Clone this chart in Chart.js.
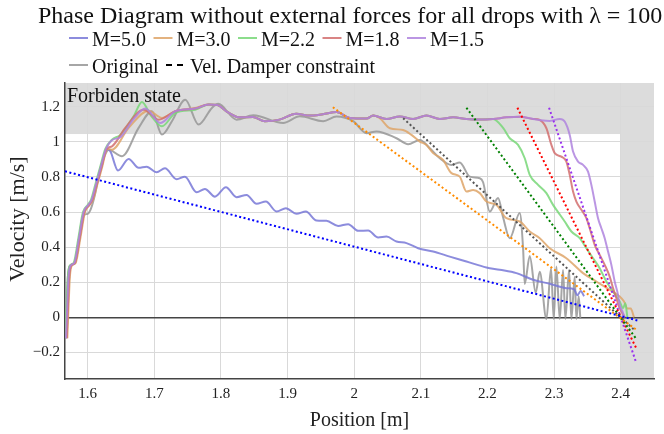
<!DOCTYPE html>
<html>
<head>
<meta charset="utf-8">
<script src="https://cdn.jsdelivr.net/npm/chart.js@4.4.0/dist/chart.umd.min.js"></script>
<style>
body{margin:0;background:#fff;}
#wrap{width:664px;height:434px;position:relative;}
</style>
</head>
<body>
<div id="wrap"><canvas id="phase"></canvas></div>
<script>
// ---- data ----
const xTicks = [1.6,1.7,1.8,1.9,2.0,2.1,2.2,2.3,2.4];
const yTicks = [-0.2,0,0.2,0.4,0.6,0.8,1,1.2];
const forbidVel = 1.045;   // forbidden state above this velocity
const wallPos = 2.4;       // forbidden state right of this position

// rise of the curves from the start
const rise = [[1.5665,-0.12],[1.5685,0.08],[1.5705,0.24],[1.5735,0.295],[1.579,0.31],[1.586,0.45],[1.593,0.60],[1.600,0.64],[1.605,0.67],[1.611,0.75],[1.619,0.86],[1.6265,0.96]];
// plateau in the forbidden region
const plateau = [[1.7815,1.213],[1.7945,1.21],[1.81,1.17],[1.828,1.14],[1.848,1.142],[1.866,1.118],[1.888,1.127],[1.913,1.16],[1.933,1.15],[1.953,1.158],[1.9735,1.17],[1.9935,1.137],[2.0185,1.133],[2.0285,1.15],[2.0485,1.131],[2.0685,1.145],[2.0885,1.131],[2.1085,1.15],[2.1285,1.131],[2.1485,1.14],[2.1685,1.131],[2.1885,1.128],[2.2085,1.131],[2.2285,1.14],[2.2485,1.144],[2.2685,1.131],[2.2785,1.125],[2.2935,1.12],[2.3085,1.131]];

const m50 = [[1.634,0.947],[1.6455,0.837],[1.6615,0.903],[1.6765,0.852],[1.6885,0.859],[1.7035,0.827],[1.716,0.85],[1.7335,0.787],[1.746,0.802],[1.7635,0.713],[1.776,0.732],[1.791,0.688],[1.8075,0.742],[1.8235,0.685],[1.8385,0.698],[1.8535,0.647],[1.8675,0.66],[1.8835,0.603],[1.8975,0.622],[1.9135,0.59],[1.9275,0.603],[1.9435,0.552],[1.9585,0.55],[1.976,0.521],[1.991,0.531],[2.006,0.493],[2.021,0.495],[2.036,0.455],[2.0485,0.46],[2.0635,0.432],[2.0785,0.423],[2.096,0.394],[2.1185,0.375],[2.1435,0.346],[2.1685,0.318],[2.1985,0.284],[2.2185,0.271],[2.2435,0.252],[2.2685,0.214],[2.2935,0.191],[2.3185,0.166],[2.33,0.16],[2.335,0.125],[2.34,0.15],[2.345,0.12]];
const m30 = [[1.6365,0.956],[1.6615,1.08],[1.6915,1.178],[1.7115,1.137],[1.7315,1.175],[1.7615,1.194],[2.0385,1.135],[2.0535,1.078],[2.0735,1.068],[2.086,1.04],[2.0985,1.002],[2.1085,0.983],[2.1185,0.936],[2.1335,0.897],[2.146,0.822],[2.1585,0.802],[2.1685,0.717],[2.1785,0.726],[2.1885,0.708],[2.1985,0.66],[2.2135,0.641],[2.2285,0.565],[2.2485,0.546],[2.2635,0.489],[2.2785,0.451],[2.2935,0.394],[2.3185,0.337],[2.3435,0.252],[2.3635,0.204],[2.3835,0.157],[2.3985,0.119],[2.405,0.09],[2.41,0.05],[2.415,0.05],[2.42,0.0]];
const m22 = [[1.6365,1.013],[1.649,1.04],[1.669,1.146],[1.6815,1.228],[1.695,1.15],[1.7115,1.089],[1.7315,1.165],[1.7615,1.184],[2.2235,1.08],[2.2335,1.021],[2.246,0.983],[2.256,0.907],[2.2635,0.812],[2.276,0.755],[2.2885,0.708],[2.2985,0.641],[2.306,0.6],[2.316,0.546],[2.326,0.489],[2.3385,0.451],[2.3485,0.394],[2.3585,0.337],[2.3685,0.28],[2.3785,0.204],[2.3885,0.147],[2.3985,0.09],[2.4035,0.052],[2.407,0.08],[2.41,0.0]];
const m18 = [[1.6365,0.975],[1.6565,1.08],[1.684,1.184],[1.7065,1.127],[1.7315,1.175],[1.7615,1.19],[2.2885,1.078],[2.296,0.983],[2.301,0.936],[2.311,0.916],[2.3185,0.888],[2.3235,0.812],[2.3285,0.717],[2.3335,0.66],[2.341,0.613],[2.3485,0.565],[2.3535,0.508],[2.361,0.413],[2.3685,0.356],[2.376,0.299],[2.3835,0.232],[2.3885,0.166],[2.3935,0.109],[2.3985,0.052],[2.403,0.02],[2.406,0.0]];
const m15 = [[1.6365,1.01],[1.649,1.027],[1.669,1.13],[1.6865,1.19],[1.709,1.108],[1.7315,1.175],[1.7615,1.19],[2.316,1.116],[2.3235,1.04],[2.3285,0.945],[2.336,0.888],[2.3435,0.869],[2.351,0.831],[2.356,0.755],[2.361,0.66],[2.366,0.565],[2.371,0.508],[2.376,0.451],[2.381,0.375],[2.386,0.299],[2.391,0.204],[2.396,0.128],[2.3985,0.071],[2.403,0.03],[2.406,0.0]];
const original = [[1.5665,-0.12],[1.5685,0.08],[1.5705,0.24],[1.5735,0.295],[1.58,0.31],[1.587,0.45],[1.593,0.58],[1.600,0.59],[1.605,0.62],[1.611,0.70],[1.619,0.85],[1.6265,0.93],[1.6315,0.955],[1.6515,0.918],[1.6765,1.08],[1.6965,1.175],[1.7115,1.042],[1.7265,1.118],[1.7465,1.241],[1.7665,1.099],[1.7865,1.194],[1.796,1.217],[1.8235,1.127],[1.8485,1.152],[1.8935,1.108],[1.9185,1.146],[1.9535,1.118],[1.9735,1.145],[1.9985,1.118],[2.0185,1.05],[2.0335,1.06],[2.0635,1.021],[2.081,0.987],[2.0985,1.011],[2.1135,0.964],[2.1285,0.907],[2.146,0.869],[2.1585,0.883],[2.1735,0.802],[2.1885,0.793],[2.1935,0.77],[2.2035,0.603],[2.216,0.68],[2.2235,0.57],[2.2335,0.451],[2.2485,0.594],[2.2535,0.394],[2.256,0.19],[2.2635,0.35],[2.2725,0.14],[2.2785,0.26],[2.2885,-0.01],[2.2955,0.28],[2.2995,-0.01],[2.3035,0.29],[2.3085,-0.01],[2.3135,0.27],[2.317,-0.01],[2.3225,0.27],[2.326,-0.01],[2.331,0.23],[2.3335,-0.01],[2.337,0.12],[2.3395,-0.01]];

// damper constraint lines (start, end)
const damp50 = [[1.566,0.8326],[2.425,-0.018]];
const damp30 = [[1.968,1.198],[2.4235,-0.071]];
const dampOrig = [[2.0735,1.135],[2.42,-0.07]];
const damp22 = [[2.1685,1.195],[2.4235,-0.124]];
const damp18 = [[2.245,1.195],[2.4245,-0.185]];
const damp15 = [[2.2925,1.195],[2.4235,-0.261]];

const seriesNames = ['M=5.0','M=3.0','M=2.2','M=1.8','M=1.5'];
// ------------------------------------

const shift = (arr, dx) => arr.map(p => [p[0]+dx, p[1]]);
const upTo = (arr, a, b) => arr.filter(p => p[0] > a && p[0] <= b);
const pts = arr => arr.map(p => ({x:p[0], y:p[1]}));

const full50 = shift(rise,0.002).concat(m50);
const full30 = shift(rise,0.003).concat(m30.slice(0,6), upTo(plateau,1.77,2.0285), m30.slice(6));
const full22 = rise.concat(m22.slice(0,8), upTo(plateau,1.77,2.2085), m22.slice(8));
const full18 = shift(rise,0.002).concat(m18.slice(0,6), upTo(plateau,1.77,2.2785), m18.slice(6));
const full15 = shift(rise,0.001).concat(m15.slice(0,7), upTo(plateau,1.77,2.3085), m15.slice(7));

const colors = {
  m50:'rgba(120,120,215,0.85)', m30:'rgba(222,165,105,0.85)', m22:'rgba(120,215,120,0.85)',
  m18:'rgba(210,110,110,0.85)', m15:'rgba(175,132,222,0.85)', orig:'rgba(150,150,150,0.85)'
};

function solid(label, data, color, order){
  return {label, data: pts(data), borderColor: color, borderWidth: 2, pointRadius: 0, order,
    fill: false, cubicInterpolationMode: 'monotone'};
}
function dotted(data, color){
  return {label: 'constraint', data: pts(data), borderColor: color, borderWidth: 2, order: 0,
    pointRadius: 0, borderDash: [2,2.5], fill: false, tension: 0};
}

const serif = "'Liberation Serif', 'Times New Roman', serif";
Chart.defaults.font.family = serif;
Chart.defaults.color = '#222';

const backdrop = {
  id: 'backdrop',
  beforeDraw(chart){
    const {ctx, chartArea: a, scales: {x, y}} = chart;
    const xw = x.getPixelForValue(wallPos), yf = y.getPixelForValue(forbidVel);
    ctx.save();
    ctx.fillStyle = '#dcdcdc';
    ctx.fillRect(a.left, a.top, xw - a.left, yf - a.top);
    ctx.fillRect(xw, a.top, a.right - xw, a.bottom - a.top);
    ctx.restore();
  },
  afterDraw(chart){
    const {ctx, chartArea: a} = chart;
    ctx.save();
    ctx.fillStyle = '#111';
    ctx.font = '24px ' + serif;
    ctx.textBaseline = 'alphabetic';
    ctx.fillText('Phase Diagram without external forces for all drops with \u03bb = 100', 38, 23);
    ctx.font = '20px ' + serif;
    ctx.fillText('Forbiden state', a.left + 2, a.top + 19);
    // legend
    const leg = [colors.m50, colors.m30, colors.m22, colors.m18, colors.m15];
    ctx.lineWidth = 2;
    leg.forEach((c, i) => {
      const x0 = 69 + i * 84.5;
      ctx.strokeStyle = c;
      ctx.beginPath(); ctx.moveTo(x0, 38); ctx.lineTo(x0 + 19, 38); ctx.stroke();
      ctx.fillStyle = '#111';
      ctx.fillText(seriesNames[i], x0 + 23, 45.5);
    });
    ctx.strokeStyle = colors.orig;
    ctx.beginPath(); ctx.moveTo(69, 65); ctx.lineTo(88, 65); ctx.stroke();
    ctx.fillText('Original', 92, 72.5);
    ctx.strokeStyle = '#000';
    ctx.setLineDash([6,5]);
    ctx.beginPath(); ctx.moveTo(166, 65); ctx.lineTo(184, 65); ctx.stroke();
    ctx.setLineDash([]);
    ctx.fillText('Vel. Damper constraint', 190, 72.5);
    // y axis title
    ctx.translate(18, 219);
    ctx.rotate(-Math.PI / 2);
    ctx.font = '22px ' + serif;
    ctx.textAlign = 'center';
    ctx.textBaseline = 'middle';
    ctx.fillStyle = '#222';
    ctx.fillText('Velocity [m/s]', 0, 0);
    ctx.restore();
  }
};

const fmt = v => {
  const s = String(Math.round(v * 10) / 10);
  return s.replace('-', '\u2212');
};

new Chart(document.getElementById('phase'), {
  type: 'line',
  data: {
    datasets: [
      solid('M=5.0', full50, colors.m50, 5),
      solid('M=3.0', full30, colors.m30, 4),
      solid('M=2.2', full22, colors.m22, 3),
      solid('M=1.8', full18, colors.m18, 2),
      solid('M=1.5', full15, colors.m15, 1),
      solid('Original', original, colors.orig, 6),
      dotted(damp50, '#0000ff'),
      dotted(damp30, '#ff8c00'),
      dotted(dampOrig, '#555555'),
      dotted(damp22, '#008000'),
      dotted(damp18, '#ff0000'),
      dotted(damp15, '#9932ee')
    ]
  },
  options: {
    responsive: true,
    maintainAspectRatio: false,
    animation: false,
    layout: {padding: {top: 83, right: 10, left: 0, bottom: 0}},
    plugins: {legend: {display: false}, title: {display: false}, tooltip: {enabled: false}},
    scales: {
      x: {
        type: 'linear', min: 1.566, max: 2.45,
        afterBuildTicks: s => { s.ticks = xTicks.map(v => ({value: v})); },
        afterFit: s => { s.height = 55; },
        ticks: {callback: fmt, font: {size: 15}, padding: 6, maxRotation: 0, color: '#222'},
        grid: {color: '#d9d9d9', drawTicks: false},
        border: {color: '#444', width: 1.5},
        title: {display: true, text: 'Position [m]', font: {size: 20}, padding: {top: 0, bottom: 1}, color: '#222'}
      },
      y: {
        min: -0.352, max: 1.336,
        afterBuildTicks: s => { s.ticks = yTicks.map(v => ({value: v})); },
        afterFit: s => { s.width = 65; },
        ticks: {callback: fmt, font: {size: 15}, padding: 5, color: '#222'},
        grid: {
          drawTicks: false,
          color: c => (c.tick && c.tick.value === 0) ? '#444' : '#d9d9d9',
          lineWidth: c => (c.tick && c.tick.value === 0) ? 1.5 : 1
        },
        border: {color: '#444', width: 1.5},
        title: {display: false}
      }
    }
  },
  plugins: [backdrop]
});
</script>
</body>
</html>
